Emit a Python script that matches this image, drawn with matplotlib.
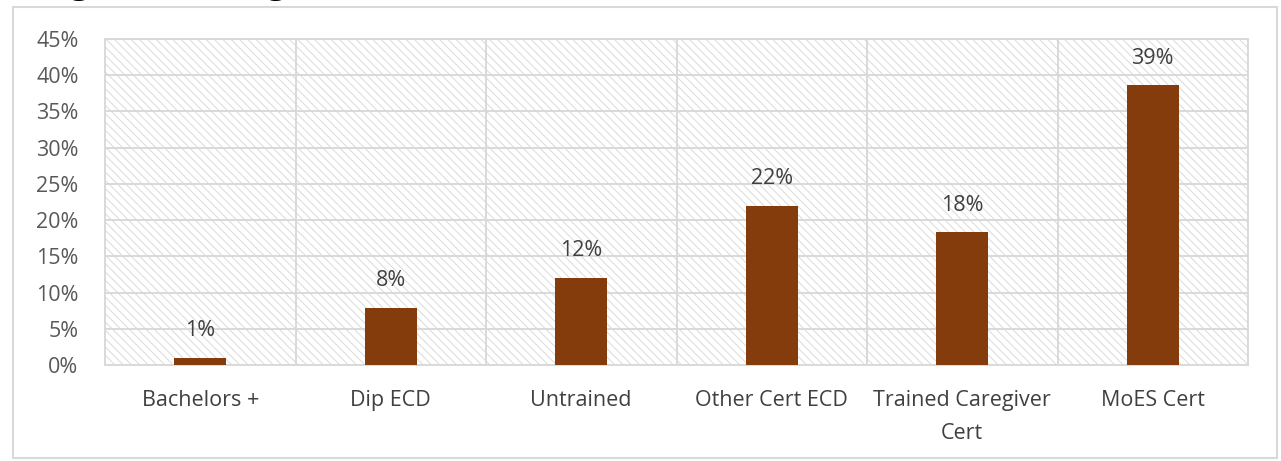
import matplotlib
matplotlib.use("Agg")
import matplotlib.pyplot as plt
from matplotlib.patches import Rectangle
from matplotlib.ticker import MultipleLocator, FuncFormatter

categories = ["Bachelors +", "Dip ECD", "Untrained", "Other Cert ECD",
              "Trained Caregiver\nCert", "MoES Cert"]
values = [1.0, 7.9, 12.0, 22.0, 18.3, 38.6]
value_labels = ["1%", "8%", "12%", "22%", "18%", "39%"]

plt.rcParams['font.family'] = ['Open Sans', 'DejaVu Sans']
plt.rcParams['hatch.linewidth'] = 0.7

W, H = 1281, 461
fig = plt.figure(figsize=(W / 100, H / 100), dpi=100)

# outer chart border
fig.patches.append(Rectangle((13 / W, 1 - 458 / H), (1277 - 13) / W, (458 - 7) / H,
                             transform=fig.transFigure, facecolor='none',
                             edgecolor='#D9D9D9', linewidth=1.5, zorder=-1))

# clipped caption above the chart
fig.text(35 / W, 1 + 8 / H, "Figure 4.2: Highest Qualification of ECD Teachers",
         family='Liberation Serif', fontweight='bold', fontsize=28,
         va='baseline', ha='left', color='black')

ax = fig.add_axes([105 / W, 1 - 365 / H, (1248 - 105) / W, (365 - 39) / H])
ax.set_facecolor('white')
ax.add_patch(Rectangle((0, 0), 1, 1, transform=ax.transAxes, facecolor='white',
                       edgecolor='#DADADA', hatch='\\\\\\\\', linewidth=0, zorder=0))

x = list(range(len(categories)))
bars = ax.bar(x, values, width=0.275, color='#843C0C', zorder=3)

ax.set_xlim(-0.5, len(categories) - 0.5)
ax.set_ylim(0, 45)
ax.yaxis.set_major_locator(MultipleLocator(5))
ax.yaxis.set_major_formatter(FuncFormatter(lambda v, p: f"{v:.0f}%"))

ax.set_xticks([i + 0.5 for i in x[:-1]], minor=True)
ax.grid(axis='y', which='major', color='#D9D9D9', linewidth=1.4, zorder=1)
ax.grid(axis='x', which='minor', color='#D9D9D9', linewidth=1.4, zorder=1)
ax.set_axisbelow(True)

fs = 15.5
ax.set_xticks(x)
ax.set_xticklabels(categories, fontsize=fs, color='#404040', linespacing=1.72)
ax.tick_params(axis='x', which='both', length=0, pad=18)
ax.tick_params(axis='y', length=0, pad=19, labelsize=fs, labelcolor='#595959')

for s in ax.spines.values():
    s.set_color('#D9D9D9')
    s.set_linewidth(1.4)

for b, lab in zip(bars, value_labels):
    ax.annotate(lab, (b.get_x() + b.get_width() / 2, b.get_height()),
                xytext=(0, 12), textcoords='offset points', ha='center',
                va='bottom', fontsize=fs, color='#404040')

fig.savefig("out.png", dpi=100)
